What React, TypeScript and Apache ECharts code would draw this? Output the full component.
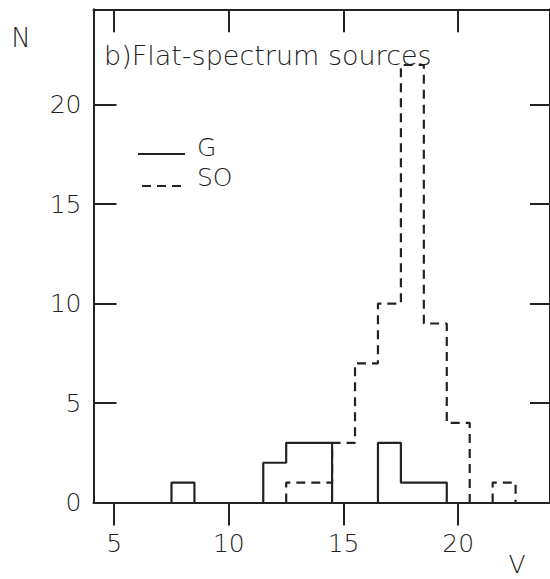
import React, { useEffect, useRef } from "react";
import * as echarts from "echarts";

// Histogram bins (V magnitude, bin centres) and counts
const V_BINS = [7, 8, 9, 10, 11, 12, 13, 14, 15, 16, 17, 18, 19, 20, 21, 22, 23];
const G_COUNTS = [0, 1, 0, 0, 0, 2, 3, 3, 0, 0, 3, 1, 1, 0, 0, 0, 0];
const SO_COUNTS = [0, 0, 0, 0, 0, 0, 1, 1, 3, 7, 10, 22, 9, 4, 0, 1, 0];
const X_TICKS = [5, 10, 15, 20];
const Y_TICKS = [0, 5, 10, 15, 20];
const SERIES_NAMES = ["G", "SO"];
const TITLE = "b)Flat-spectrum sources";

const FONT = "'DejaVu Sans', sans-serif";
const INK = "#222222";
const TEXT = "#1e1e1e";
const DASH = [9, 6];

// Histogram outline: each run of non-empty bins becomes a closed step line
function outline(bins: number[], counts: number[]): (number[] | null)[] {
  const pts: (number[] | null)[] = [];
  let inRun = false;
  bins.forEach((c, i) => {
    const v = counts[i];
    if (v > 0) {
      if (!inRun) {
        pts.push([c - 0.5, 0]);
        inRun = true;
      }
      pts.push([c - 0.5, v]);
      pts.push([c + 0.5, v]);
      const next = i + 1 < counts.length ? counts[i + 1] : 0;
      if (next === 0) {
        pts.push([c + 0.5, 0]);
        pts.push(null);
        inRun = false;
      }
    }
  });
  return pts;
}

export default function App() {
  const ref = useRef<HTMLDivElement>(null);
  useEffect(() => {
    if (!ref.current) return;
    const chart = echarts.init(ref.current, undefined, { renderer: "svg" });
    const xBase = {
      type: "value" as const,
      min: 4.1,
      max: 24,
      splitLine: { show: false },
      axisLine: { show: true, onZero: false, lineStyle: { color: INK, width: 2 } },
    };
    const yBase = {
      type: "value" as const,
      min: 0,
      max: 24.8,
      splitLine: { show: false },
      axisLine: { show: true, onZero: false, lineStyle: { color: INK, width: 2 } },
    };
    const txt = (text: string, x: number, y: number, size: number, align = "center") => ({
      type: "text",
      x,
      y,
      style: { text, fontFamily: FONT, fontSize: size, fontWeight: 200, fill: TEXT, align, verticalAlign: "middle" },
    });
    const mk = (s: (number[] | null)[]) => s.map((p) => (p ? p : [null, null]));
    chart.setOption({
      animation: false,
      backgroundColor: "#ffffff",
      title: {
        text: TITLE,
        left: 104,
        top: 40,
        padding: 0,
        textStyle: { fontFamily: FONT, fontSize: 27, fontWeight: 200, color: TEXT, lineHeight: 30 },
      },
      grid: { left: 93.5, top: 9.3, right: -3, bottom: 76.5 },
      xAxis: [
        {
          ...xBase,
          position: "bottom",
          axisTick: { show: true, inside: false, length: 23, customValues: X_TICKS, lineStyle: { color: INK, width: 2 } },
          axisLabel: { show: true, customValues: X_TICKS, margin: 28, fontFamily: FONT, fontSize: 25, fontWeight: 200, color: TEXT },
        },
        {
          ...xBase,
          position: "top",
          axisTick: { show: true, inside: true, length: 23, customValues: X_TICKS, lineStyle: { color: INK, width: 2 } },
          axisLabel: { show: false },
        },
      ],
      yAxis: [
        {
          ...yBase,
          position: "left",
          axisTick: { show: true, inside: true, length: 23, customValues: Y_TICKS, lineStyle: { color: INK, width: 2 } },
          axisLabel: {
            show: true,
            customValues: Y_TICKS,
            margin: 12,
            fontFamily: FONT,
            fontSize: 25,
            fontWeight: 200,
            color: TEXT,
            padding: [0, 0, 10, 0],
          },
        },
        {
          ...yBase,
          position: "right",
          axisTick: { show: true, inside: true, length: 20, customValues: Y_TICKS, lineStyle: { color: INK, width: 2 } },
          axisLabel: { show: false },
        },
      ],
      graphic: [
        txt("N", 21, 38, 26),
        txt("V", 517, 564, 25),
        {
          type: "line",
          shape: { x1: 138, y1: 154, x2: 185, y2: 154 },
          style: { stroke: INK, lineWidth: 2 },
        },
        {
          type: "line",
          shape: { x1: 142, y1: 186, x2: 186, y2: 186 },
          style: { stroke: INK, lineWidth: 2, lineDash: DASH },
        },
        txt(SERIES_NAMES[0], 197, 147, 25, "left"),
        txt(SERIES_NAMES[1], 197, 177, 25, "left"),
      ],
      series: [
        {
          name: SERIES_NAMES[0],
          type: "line",
          data: mk(outline(V_BINS, G_COUNTS)),
          connectNulls: false,
          symbol: "none",
          lineStyle: { color: INK, width: 2.2, type: "solid" },
          z: 3,
        },
        {
          name: SERIES_NAMES[1],
          type: "line",
          data: mk(outline(V_BINS, SO_COUNTS)),
          connectNulls: false,
          symbol: "none",
          lineStyle: { color: INK, width: 2.2, type: DASH },
          z: 2,
        },
      ],
    });
    return () => chart.dispose();
  }, []);
  return <div ref={ref} style={{ width: 550, height: 579, position: "absolute", left: 0, top: 0 }} />;
}
